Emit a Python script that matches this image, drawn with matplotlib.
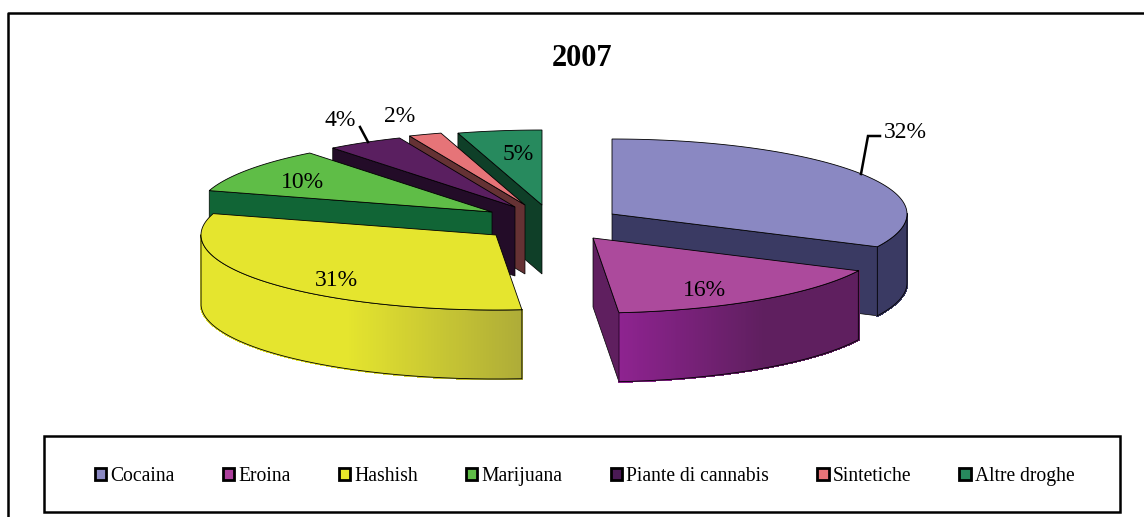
import numpy as np
import matplotlib
matplotlib.use("Agg")
import matplotlib.pyplot as plt
from matplotlib.patches import Polygon, Rectangle
from matplotlib.colors import to_rgb

categories = ["Cocaina", "Eroina", "Hashish", "Marijuana", "Piante di cannabis", "Sintetiche", "Altre droghe"]
values = [32.2, 16.4, 31.0, 9.8, 4.2, 1.8, 4.6]
title = "2007"

top_colors = ["#8A88C2", "#AC4A9C", "#E5E52E", "#5FBD47", "#5A1F60", "#E67478", "#278A5E"]
side_colors = ["#3A3A63", "#5F1F5F", "#E5E52E", "#116536", "#230C28", "#653234", "#0F3F28"]
legend_colors = ["#8A88C2", "#AC3F9C", "#E8E82A", "#5FBD47", "#4A1A55", "#E67478", "#278A5E"]
grad_start = {1: "#8E2390", 2: "#E5E52E"}
grad_end = {1: "#5F1F5F", 2: "#AEAB38"}

# layout (pixels of the figure)
apex = [(612, 214), (593, 238), (496, 235), (492, 212), (515, 207), (525, 205), (542, 205)]
label_pos = [(905, 132), (704, 291), (336, 281), (302, 182), (340, 121), (400, 117), (518, 155)]
RX, RY, DEPTH = 295, 75, 69
draw_order = [6, 5, 4, 3, 2, 0, 1]

plt.rcParams["font.family"] = ["Liberation Serif", "DejaVu Serif"]
fig = plt.figure(figsize=(11.44, 5.17), dpi=100, facecolor="white")
ax = fig.add_axes([0, 0, 1, 1])
ax.set_xlim(0, 1144)
ax.set_ylim(517, 0)
ax.axis("off")

# outer frame
ax.plot([1144, 8, 8], [13, 13, 517], color="black", lw=1.8, solid_capstyle="butt", zorder=1)

edges = np.cumsum([0] + values) / sum(values) * 2 * np.pi


def rim(c, t):
    return c[0] + RX * np.sin(t), c[1] - RY * np.cos(t)


z = 2
for i in draw_order:
    c = apex[i]
    t0, t1 = edges[i], edges[i + 1]
    # radial faces turned towards the viewer
    visible = []
    if np.sin(t1) > 1e-9:
        visible.append(t1)
    if np.sin(t0) < -1e-9:
        visible.append(t0)
    for t in visible:
        x, y = rim(c, t)
        ax.add_patch(Polygon([c, (x, y), (x, y + DEPTH), (c[0], c[1] + DEPTH)],
                             closed=True, fc=side_colors[i], ec="black", lw=0.5, zorder=z))
        z += 1
    # curved outer face: only the part facing the viewer
    a0, a1 = max(t0, np.pi / 2), min(t1, 3 * np.pi / 2)
    if a1 > a0:
        ts = np.linspace(a0, a1, 160)
        xs, ys = rim(c, ts)
        xmin, xmax = xs.min(), xs.max()
        for k in range(len(ts) - 1):
            xm = (xs[k] + xs[k + 1]) / 2
            if i in grad_start:
                f = (xm - xmin) / (xmax - xmin)
                f = np.clip((f - 0.45) / 0.55, 0, 1) if i == 2 else np.clip(f / 0.6, 0, 1)
                col = tuple((1 - f) * np.array(to_rgb(grad_start[i])) + f * np.array(to_rgb(grad_end[i])))
            else:
                col = side_colors[i]
            ax.add_patch(Polygon([(xs[k], ys[k]), (xs[k + 1], ys[k + 1]),
                                  (xs[k + 1], ys[k + 1] + DEPTH), (xs[k], ys[k] + DEPTH)],
                                 closed=True, fc=col, ec=col, lw=1.0, antialiased=False, zorder=z))
        z += 1
        ax.plot(np.r_[xs, xs[::-1], xs[0]], np.r_[ys, ys[::-1] + DEPTH, ys[0]],
                color="black", lw=0.6, zorder=z)
        z += 1
    # top face
    ts = np.linspace(t0, t1, 120)
    xs, ys = rim(c, ts)
    ax.add_patch(Polygon(np.r_[[c], np.c_[xs, ys]], closed=True,
                         fc=top_colors[i], ec="black", lw=0.6, zorder=z))
    z += 1

# leader lines
ax.plot([861, 868, 880], [174, 136, 136], color="black", lw=1.8, zorder=z, solid_joinstyle="miter")
ax.plot([368, 360], [142, 127], color="black", lw=1.8, zorder=z)

# value labels
for v, (lx, ly) in zip(values, label_pos):
    ax.text(lx, ly, f"{round(v)}%", ha="center", va="center", fontsize=17, color="black", zorder=z + 1)

ax.text(582.5, 59, title, ha="center", va="center", fontsize=22, fontweight="bold", color="black")

# legend box and legend
ax.add_patch(Rectangle((44, 436), 1076, 76, fc="white", ec="black", lw=1.8, zorder=1))
handles = [Rectangle((0, 0), 1, 1, fc=col, ec="black", lw=2.0) for col in legend_colors]
ax.legend(handles, categories, ncol=7, loc="center", bbox_to_anchor=(584.5, 476.5),
          bbox_transform=ax.transData, frameon=False, fontsize=14.1,
          handlelength=0.58, handleheight=0.58, handletextpad=0.2,
          columnspacing=2.47, borderpad=0, borderaxespad=0)

fig.savefig("out.png", dpi=100, facecolor="white")
